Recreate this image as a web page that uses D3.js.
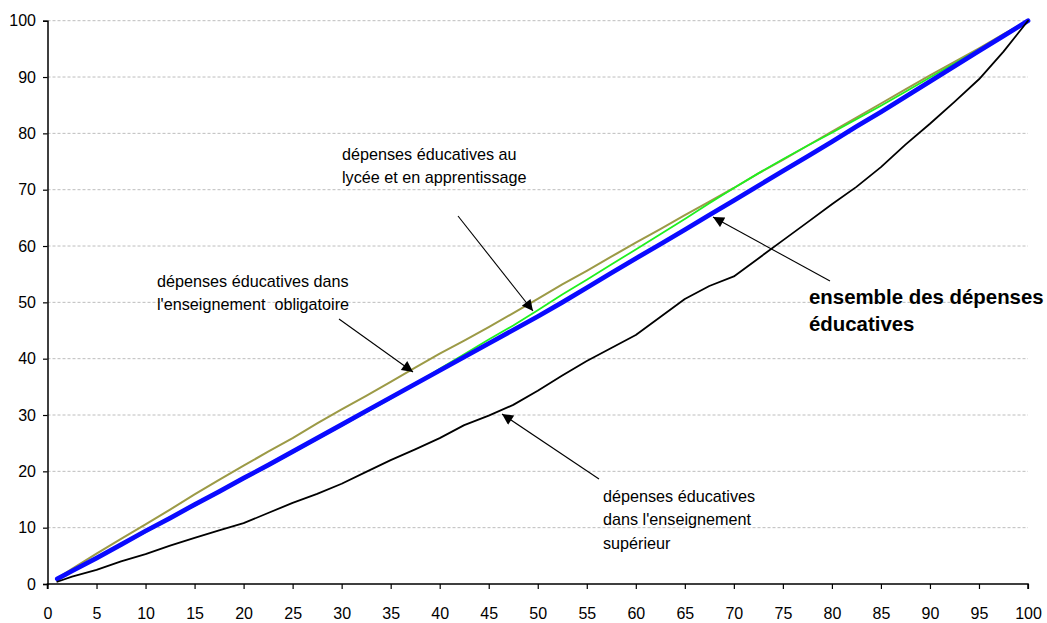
<!DOCTYPE html>
<html>
<head>
<meta charset="utf-8">
<script src="https://cdn.jsdelivr.net/npm/d3@7"></script>
<style>
  html, body { margin: 0; padding: 0; background: #fff; }
  svg { display: block; font-family: "Liberation Sans", Arial, sans-serif; }
</style>
</head>
<body>
<svg id="chart" width="1047" height="623"></svg>
<script>
// ---- data ----
const xValues = [1, 2.5, 5, 7.5, 10, 12.5, 15, 17.5, 20, 22.5, 25, 27.5, 30, 32.5, 35, 37.5, 40, 42.5, 45, 47.5, 50,
  52.5, 55, 57.5, 60, 62.5, 65, 67.5, 70, 72.5, 75, 77.5, 80, 82.5, 85, 87.5, 90, 92.5, 95, 97.5, 100];

const obligatoire = [1.0, 2.7, 5.4, 8.0, 10.6, 13.2, 15.9, 18.5, 21.0, 23.5, 25.9, 28.5, 31.0, 33.4, 35.9, 38.4, 40.9, 43.2, 45.6, 48.1, 50.6,
  53.2, 55.6, 58.1, 60.6, 63.0, 65.5, 67.9, 70.3, 72.9, 75.3, 77.8, 80.3, 82.8, 85.3, 87.8, 90.3, 92.7, 95.1, 97.6, 100];

const lycee = [0.8, 2.3, 4.5, 6.9, 9.2, 11.6, 13.9, 16.3, 18.6, 20.9, 23.3, 25.7, 28.1, 30.5, 32.9, 35.5, 38.2, 40.8, 43.4, 45.9, 48.6,
  51.4, 54.0, 56.7, 59.4, 62.1, 64.8, 67.6, 70.3, 72.9, 75.4, 77.8, 80.1, 82.5, 84.9, 87.4, 89.9, 92.4, 94.9, 97.4, 100];

const ensemble = [0.9, 2.3, 4.6, 7.0, 9.4, 11.7, 14.1, 16.4, 18.8, 21.1, 23.5, 25.9, 28.3, 30.7, 33.1, 35.5, 37.9, 40.3, 42.7, 45.1, 47.5,
  50.0, 52.6, 55.2, 57.8, 60.3, 62.9, 65.5, 68.1, 70.7, 73.3, 75.9, 78.5, 81.2, 83.8, 86.5, 89.2, 91.9, 94.6, 97.3, 100];

const superieur = [0.4, 1.3, 2.5, 4.0, 5.3, 6.8, 8.2, 9.5, 10.8, 12.6, 14.4, 16.0, 17.8, 19.9, 22.0, 23.9, 25.9, 28.2, 29.9, 31.8, 34.3,
  37.0, 39.6, 41.9, 44.2, 47.4, 50.6, 52.9, 54.6, 57.8, 61.0, 64.2, 67.4, 70.5, 74.0, 78.0, 81.7, 85.6, 89.6, 94.5, 100];

const xTicks = [0, 5, 10, 15, 20, 25, 30, 35, 40, 45, 50, 55, 60, 65, 70, 75, 80, 85, 90, 95, 100];
const yTicks = [0, 10, 20, 30, 40, 50, 60, 70, 80, 90, 100];

const labelLycee = ["dépenses éducatives au", "lycée et en apprentissage"];
const labelOblig = ["dépenses éducatives dans", "l'enseignement  obligatoire"];
const labelEnsemble = ["ensemble des dépenses", "éducatives"];
const labelSup = ["dépenses éducatives", "dans l'enseignement", "supérieur"];

// ---- layout ----
const svg = d3.select("#chart");
const x = d3.scaleLinear().domain([0, 100]).range([47.5, 1028]);
const y = d3.scaleLinear().domain([0, 100]).range([584, 20.7]);

// gridlines
svg.append("g").selectAll("line")
  .data(yTicks.filter(d => d > 0))
  .join("line")
  .attr("x1", x(0)).attr("x2", x(100))
  .attr("y1", d => y(d)).attr("y2", d => y(d))
  .attr("stroke", "#bdbdbd").attr("stroke-width", 1)
  .attr("stroke-dasharray", "3,2");

// axes
const yAxis = d3.axisLeft(y).tickValues(yTicks).tickSize(4.5).tickPadding(7).tickFormat(d3.format("d"));
const xAxis = d3.axisBottom(x).tickValues(xTicks).tickSize(5).tickPadding(19).tickFormat(d3.format("d"));

const gy = svg.append("g").attr("transform", `translate(${x(0)},0)`).call(yAxis);
const gx = svg.append("g").attr("transform", `translate(0,${y(0)})`).call(xAxis);
[gx, gy].forEach(g => {
  g.select(".domain").attr("stroke", "#000").attr("stroke-width", 1.5);
  g.selectAll(".tick line").attr("stroke", "#000").attr("stroke-width", 1.2);
  g.selectAll(".tick text").attr("fill", "#000").attr("font-size", 16)
    .attr("font-family", "'Liberation Sans', Arial, sans-serif");
});
gx.select(".domain").attr("d", `M${x(0)},5V0H${x(100)}V5`);

// lines
const line = d3.line().x((d, i) => x(xValues[i])).y(d => y(d));
const series = [
  { data: obligatoire, color: "#9c9a46", width: 2 },
  { data: lycee, color: "#1ff01f", width: 1.8 },
  { data: ensemble, color: "#0a0aff", width: 4.7 },
  { data: superieur, color: "#000000", width: 1.8 }
];
svg.append("g").selectAll("path")
  .data(series)
  .join("path")
  .attr("d", d => line(d.data))
  .attr("fill", "none")
  .attr("stroke", d => d.color)
  .attr("stroke-width", d => d.width)
  .attr("stroke-linejoin", "round")
  .attr("stroke-linecap", "round");

// arrows
const defs = svg.append("defs");
defs.append("marker")
  .attr("id", "arrow").attr("viewBox", "0 0 10 10")
  .attr("refX", 10).attr("refY", 5)
  .attr("markerWidth", 14).attr("markerHeight", 11)
  .attr("markerUnits", "userSpaceOnUse")
  .attr("orient", "auto")
  .append("path").attr("d", "M0,0L10,5L0,10Z").attr("fill", "#000");

const arrows = [
  [458, 216, 533, 311],
  [339, 319, 413, 372],
  [830, 281, 713, 217],
  [599, 479, 502, 414]
];
svg.append("g").selectAll("line")
  .data(arrows)
  .join("line")
  .attr("x1", d => d[0]).attr("y1", d => d[1])
  .attr("x2", d => d[2]).attr("y2", d => d[3])
  .attr("stroke", "#000").attr("stroke-width", 1.1)
  .attr("marker-end", "url(#arrow)");

// labels
function addLabel(lines, x0, y0, dy, size, weight) {
  const t = svg.append("text").attr("x", x0).attr("y", y0)
    .attr("font-size", size).attr("font-weight", weight).attr("fill", "#000");
  lines.forEach((s, i) => {
    t.append("tspan").attr("x", x0).attr("y", y0 + i * dy).attr("xml:space", "preserve").text(s);
  });
}
addLabel(labelLycee, 342, 160, 23, 16.2, "normal");
addLabel(labelOblig, 157, 287, 23, 16.2, "normal");
addLabel(labelEnsemble, 809, 304, 27, 20.4, "bold");
addLabel(labelSup, 603, 502, 23.3, 16.2, "normal");
</script>
</body>
</html>
